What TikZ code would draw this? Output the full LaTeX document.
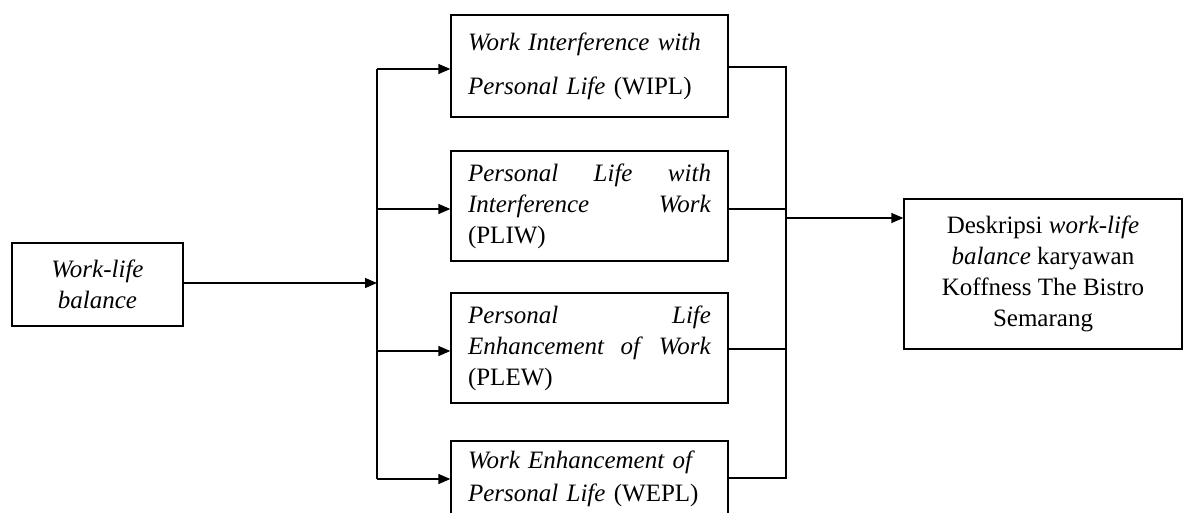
\documentclass[tikz,border=0pt]{standalone}
\usepackage{fontspec}
\setmainfont{Liberation Serif}
\usetikzlibrary{arrows.meta}
\begin{document}
\begin{tikzpicture}[x=1pt,y=-1pt,
  box/.style={draw,line width=1.3pt,rectangle,inner sep=0pt,font=\fontsize{25}{31}\selectfont},
  conn/.style={line width=1.3pt},
  arr/.style={line width=1.3pt,-{Triangle[length=12pt,width=10pt]}}]
\useasboundingbox (0,0) rectangle (1183,512);
% nodes
\node[box,minimum width=171pt,minimum height=83pt,align=center] (wlb) at (97.5,284.5) {\textit{Work-life}\\\textit{balance}};
\node[box,minimum width=277pt,minimum height=102pt,text width=243pt,align=left,font=\fontsize{25}{44}\selectfont] (wipl) at (589.5,66) {\textit{Work Interference with}\\\textit{Personal Life} (WIPL)};
\node[box,minimum width=277pt,minimum height=110pt,text width=243pt,align=left] (pliw) at (589.5,206) {\textit{Personal}\hfill\textit{Life}\hfill\textit{with}\\\textit{Interference}\hfill\textit{Work}\\(PLIW)};
\node[box,minimum width=277pt,minimum height=110pt,text width=243pt,align=left] (plew) at (589.5,348) {\textit{Personal}\hfill\textit{Life}\\\textit{Enhancement}\hfill\textit{of}\hfill\textit{Work}\\(PLEW)};
\node[box,minimum width=277pt,minimum height=76pt,text width=243pt,align=left,font=\fontsize{25}{33}\selectfont] (wepl) at (589.5,479) {\textit{Work Enhancement of}\\\textit{Personal Life} (WEPL)};
\node[box,minimum width=278pt,minimum height=150pt,align=center] (desc) at (1043,274) {Deskripsi \textit{work-life}\\\textit{balance} karyawan\\Koffness The Bistro\\Semarang};
% bus coordinates
\coordinate (lin) at (377,283);
\coordinate (l1) at (377,69);
\coordinate (l2) at (377,209);
\coordinate (l3) at (377,351);
\coordinate (l4) at (377,479);
\coordinate (r1) at (786,67);
\coordinate (r2) at (786,209);
\coordinate (r3) at (786,349);
\coordinate (r4) at (786,478);
\coordinate (rout) at (786,218);
\coordinate (din) at (desc.west |- rout);
% connectors
\draw[arr] (wlb.east |- lin) -- (lin);
\draw[conn] (l1) -- (l4);
\draw[arr] (l1) -- (wipl.west |- l1);
\draw[arr] (l2) -- (pliw.west |- l2);
\draw[arr] (l3) -- (plew.west |- l3);
\draw[arr] (l4) -- (wepl.west |- l4);
\draw[conn] (wipl.east |- r1) -- (r1) -- (r4) -- (wepl.east |- r4);
\draw[conn] (pliw.east |- r2) -- (r2);
\draw[conn] (plew.east |- r3) -- (r3);
\draw[arr] (rout) -- (din);
\end{tikzpicture}
\end{document}
